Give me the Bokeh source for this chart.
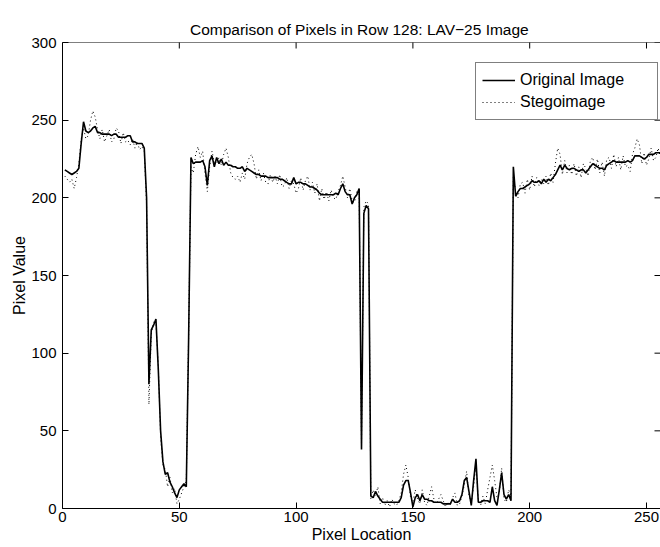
import math
from bokeh.plotting import figure
from bokeh.models import (LinearAxis, FixedTicker, Legend, LegendItem, Range1d,
                          ColumnDataSource, Span)
from bokeh.embed import file_html
from bokeh.resources import INLINE

# ---- data ----
pixel_location = list(range(1, 257))

original_image = [
    218, 217, 216, 215, 216, 217, 219, 235, 249, 243,
    242, 243, 245, 246, 242, 242, 241, 241, 241, 241,
    240, 241, 241, 239, 239, 239, 239, 240, 240, 236,
    236, 235, 235, 235, 232, 200, 80, 115, 118, 122,
    90, 50, 30, 22, 23, 17, 14, 10, 7, 12,
    14, 16, 14, 110, 226, 222, 223, 223, 223, 224,
    220, 208, 224, 227, 220, 226, 222, 225, 221, 223,
    221, 221, 220, 220, 219, 219, 220, 217, 219, 218,
    217, 216, 215, 215, 214, 214, 214, 213, 213, 213,
    213, 213, 212, 212, 211, 210, 209, 209, 213, 209,
    210, 210, 209, 209, 208, 207, 207, 206, 205, 203,
    202, 202, 202, 202, 202, 202, 203, 202, 206, 209,
    204, 202, 202, 196, 200, 202, 206, 38, 190, 195,
    193, 8, 7, 11, 8, 6, 4, 4, 4, 4,
    4, 4, 4, 4, 7, 15, 18, 18, 10, 1,
    7, 9, 5, 9, 6, 6, 5, 5, 4, 4,
    4, 4, 3, 3, 3, 3, 6, 4, 4, 5,
    9, 18, 20, 11, 2, 18, 32, 4, 4, 5,
    5, 5, 4, 14, 5, 2, 12, 23, 9, 6,
    9, 5, 220, 201, 204, 206, 206, 207, 208, 209,
    211, 210, 210, 211, 209, 212, 210, 212, 211, 213,
    215, 218, 221, 218, 221, 219, 218, 219, 219, 218,
    217, 218, 218, 216, 218, 220, 222, 221, 220, 219,
    219, 218, 221, 222, 223, 224, 223, 223, 223, 223,
    223, 224, 223, 224, 227, 227, 227, 226, 225, 226,
    228, 228, 228, 229, 229, 229,
]

stegoimage = [
    214, 212, 210, 212, 206, 213, 222, 238, 245, 238,
    240, 250, 256, 252, 244, 238, 244, 236, 240, 244,
    236, 238, 245, 243, 235, 242, 236, 237, 234, 238,
    232, 236, 231, 233, 230, 195, 67, 112, 120, 119,
    92, 46, 28, 25, 14, 20, 10, 13, 3, 6,
    10, 14, 18, 112, 220, 216, 228, 233, 226, 230,
    216, 204, 220, 230, 223, 222, 226, 221, 228, 232,
    226, 216, 213, 212, 214, 210, 216, 212, 222, 226,
    228, 222, 212, 218, 211, 216, 210, 209, 215, 210,
    214, 209, 215, 207, 208, 213, 206, 211, 209, 203,
    206, 213, 205, 211, 214, 205, 210, 203, 209, 198,
    206, 199, 204, 198, 205, 200, 199, 204, 208, 214,
    207, 200, 206, 198, 197, 204, 202, 40, 194, 198,
    196, 6, 12, 8, 14, 3, 7, 2, 5, 1,
    6, 3, 2, 5, 10, 22, 28, 20, 7, 4,
    12, 6, 3, 12, 4, 2, 8, 14, 6, 3,
    6, 9, 5, 1, 4, 2, 7, 10, 2, 3,
    8, 15, 24, 8, 4, 14, 28, 6, 2, 8,
    3, 12, 20, 28, 18, 7, 10, 26, 6, 4,
    12, 8, 214, 204, 200, 209, 210, 203, 212, 205,
    214, 207, 213, 208, 212, 209, 214, 208, 216, 210,
    222, 232, 228, 215, 224, 216, 221, 215, 222, 214,
    220, 213, 222, 219, 214, 224, 226, 218, 225, 216,
    223, 214, 225, 226, 219, 228, 220, 226, 218, 227,
    220, 221, 217, 228, 232, 238, 234, 222, 229, 221,
    225, 232, 224, 226, 232, 226,
]

x_ticks = [0, 50, 100, 150, 200, 250]
y_ticks = [0, 50, 100, 150, 200, 250, 300]
x_min, x_max = 0, 256
y_min, y_max = 0, 300

title_text = "Comparison of Pixels in Row 128:  LAV\u221225 Image"
x_label = "Pixel Location"
y_label = "Pixel Value"
series_labels = ["Original Image", "Stegoimage"]

FONT = "Liberation Sans"

src = ColumnDataSource(dict(x=pixel_location, orig=original_image, steg=stegoimage))

p = figure(width=660, height=547, output_backend="svg", toolbar_location=None,
           x_range=Range1d(x_min, x_max), y_range=Range1d(y_min, y_max),
           x_axis_location=None, y_axis_location=None,
           min_border_left=62, min_border_right=0, min_border_top=42, min_border_bottom=39,
           background_fill_color="white", border_fill_color="white")
p.outline_line_color = None
p.xgrid.visible = False
p.ygrid.visible = False

p.title.text = title_text
p.title.align = "center"
p.title.text_font = FONT
p.title.text_font_size = "15.5px"
p.title.text_font_style = "normal"
p.title.text_color = "black"
p.title.standoff = 9


def style_axis(ax):
    ax.axis_line_color = "black"
    ax.axis_line_width = 1
    ax.major_tick_in = 6
    ax.major_tick_out = 0
    ax.minor_tick_line_color = None
    ax.major_tick_line_color = "black"
    ax.major_label_text_font = FONT
    ax.major_label_text_font_size = "15px"
    ax.major_label_text_color = "black"
    ax.axis_label_text_font = FONT
    ax.axis_label_text_font_size = "16px"
    ax.axis_label_text_font_style = "normal"
    ax.axis_label_text_color = "black"


bottom = LinearAxis(ticker=FixedTicker(ticks=x_ticks), axis_label=x_label)
style_axis(bottom)
bottom.major_label_standoff = 3
bottom.axis_label_standoff = 1
p.add_layout(bottom, "below")

left = LinearAxis(ticker=FixedTicker(ticks=y_ticks), axis_label=y_label)
style_axis(left)
left.major_label_standoff = 6
left.axis_label_standoff = 0
p.add_layout(left, "left")

# top edge of the box and the inward ticks on the top and right edges
p.add_layout(Span(location=y_max, dimension="width", line_color="black", line_width=1))
p.scatter(x=x_ticks, y=[y_max] * len(x_ticks), marker="dash", angle=math.pi / 2,
          size=12, line_color="black", line_width=1)
p.scatter(x=[x_max] * len(y_ticks), y=y_ticks, marker="dash", angle=0,
          size=12, line_color="black", line_width=1)

r1 = p.line("x", "orig", source=src, line_color="black", line_width=1.6)
r2 = p.line("x", "steg", source=src, line_color="black", line_width=1, line_dash="1 3")

legend = Legend(items=[LegendItem(label=series_labels[0], renderers=[r1]),
                       LegendItem(label=series_labels[1], renderers=[r2])],
                location=(413, 388))
legend.label_text_font = FONT
legend.label_text_font_size = "16px"
legend.label_text_color = "black"
legend.border_line_color = "black"
legend.border_line_width = 1
legend.background_fill_color = "white"
legend.background_fill_alpha = 1
legend.padding = 6
legend.spacing = 0
legend.glyph_width = 33
legend.glyph_height = 22
legend.label_height = 22
legend.label_width = 131
legend.label_standoff = 5
legend.margin = 0
p.add_layout(legend)

open("out.html", "w").write(file_html(p, INLINE))
